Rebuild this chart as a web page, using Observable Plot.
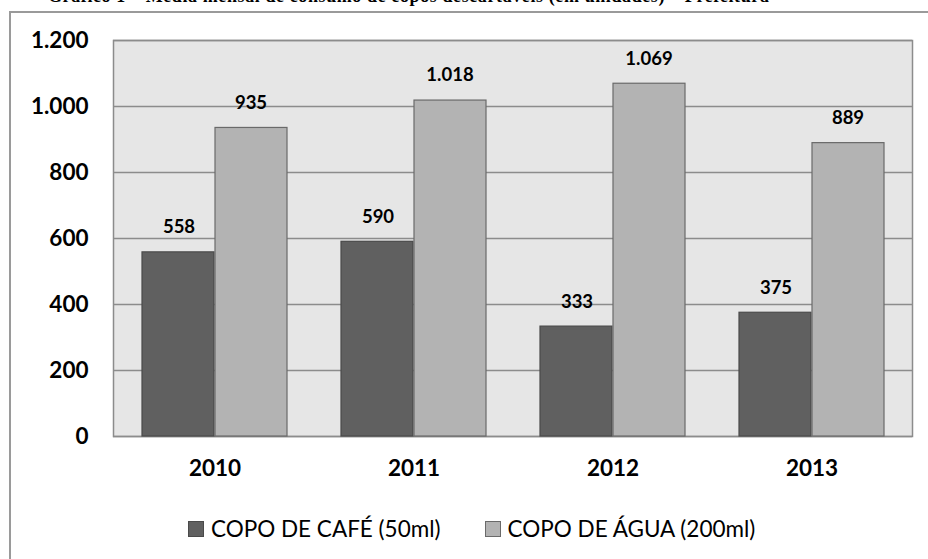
<!DOCTYPE html>
<html><head><meta charset="utf-8">
<script src="https://cdn.jsdelivr.net/npm/d3@7"></script>
<script src="https://cdn.jsdelivr.net/npm/@observablehq/plot@0.6"></script>
<style>
body{margin:0;background:#fff;width:928px;height:559px;overflow:hidden;position:relative;font-family:Lato,sans-serif}
#box{position:absolute;left:9px;top:11px;width:960px;height:620px;border:2px solid #9a9a9a;box-sizing:border-box}
#title{position:absolute;left:48px;top:-14px;font:bold 18px "Liberation Serif",serif;white-space:nowrap;color:#000;letter-spacing:0.6px}
#chart{position:absolute;left:0;top:0}
#legend{position:absolute;top:515px;left:188px;display:flex;align-items:center;font:22.5px Lato,sans-serif;color:#000;white-space:nowrap}
.item{display:flex;align-items:center}
.sw{width:16px;height:16px;box-sizing:border-box;margin-right:7px}
</style></head>
<body>
<div id="title">Gráfico 1 – Média mensal de consumo de copos descartáveis (em unidades) – Prefeitura</div>
<div id="box"></div>
<div id="chart"></div>
<div id="legend"></div>
<script>
const years = ["2010", "2011", "2012", "2013"];
const seriesNames = ["COPO DE CAFÉ (50ml)", "COPO DE ÁGUA (200ml)"];
const cafe = [558, 590, 333, 375];
const agua = [935, 1018, 1069, 889];
const yTicks = [0, 200, 400, 600, 800, 1000, 1200];
const colors = ["#606060", "#b3b3b3"];
const strokes = ["#4a4a4a", "#6a6a6a"];

const fmt = d3.formatLocale({decimal: ",", thousands: ".", grouping: [3], currency: ["R$", ""]}).format(",d");
const cafeData = years.map((y, i) => ({year: y, value: cafe[i]}));
const aguaData = years.map((y, i) => ({year: y, value: agua[i]}));

const chart = Plot.plot({
  width: 928, height: 490,
  marginLeft: 113, marginRight: 16, marginTop: 40, marginBottom: 54,
  style: {fontFamily: "Lato, sans-serif", fontSize: "22.5px", fontWeight: "bold", color: "#000", background: "transparent", overflow: "visible"},
  x: {domain: years, padding: 0, tickSize: 0, tickPadding: 24, label: null},
  y: {domain: [0, 1200], ticks: yTicks, tickFormat: fmt, tickSize: 0, tickPadding: 25, label: null},
  marks: [
    Plot.frame({fill: "#e6e6e6", stroke: "#8c8c8c", strokeWidth: 1.5}),
    Plot.ruleY(yTicks, {stroke: "#8c8c8c", strokeWidth: 1.5}),
    Plot.barY(cafeData, {x: "year", y: "value", fill: colors[0], stroke: strokes[0], strokeWidth: 1.2, insetLeft: 27, insetRight: 100}),
    Plot.barY(aguaData, {x: "year", y: "value", fill: colors[1], stroke: strokes[1], strokeWidth: 1.2, insetLeft: 100, insetRight: 27}),
    Plot.text(cafeData, {x: "year", y: "value", text: d => fmt(d.value), dx: -36, dy: -25, fontSize: 18.5, fontWeight: "bold", fill: "#000"}),
    Plot.text(aguaData, {x: "year", y: "value", text: d => fmt(d.value), dx: 36, dy: -25, fontSize: 18.5, fontWeight: "bold", fill: "#000"})
  ]
});
document.getElementById("chart").appendChild(chart);

const legend = document.getElementById("legend");
seriesNames.forEach((name, i) => {
  const item = document.createElement("div");
  item.className = "item";
  if (i > 0) item.style.marginLeft = "44px";
  const sw = document.createElement("span");
  sw.className = "sw";
  sw.style.background = colors[i];
  sw.style.border = "1px solid " + strokes[i];
  const t = document.createElement("span");
  t.textContent = name;
  item.appendChild(sw); item.appendChild(t);
  legend.appendChild(item);
});
</script>
</body></html>
